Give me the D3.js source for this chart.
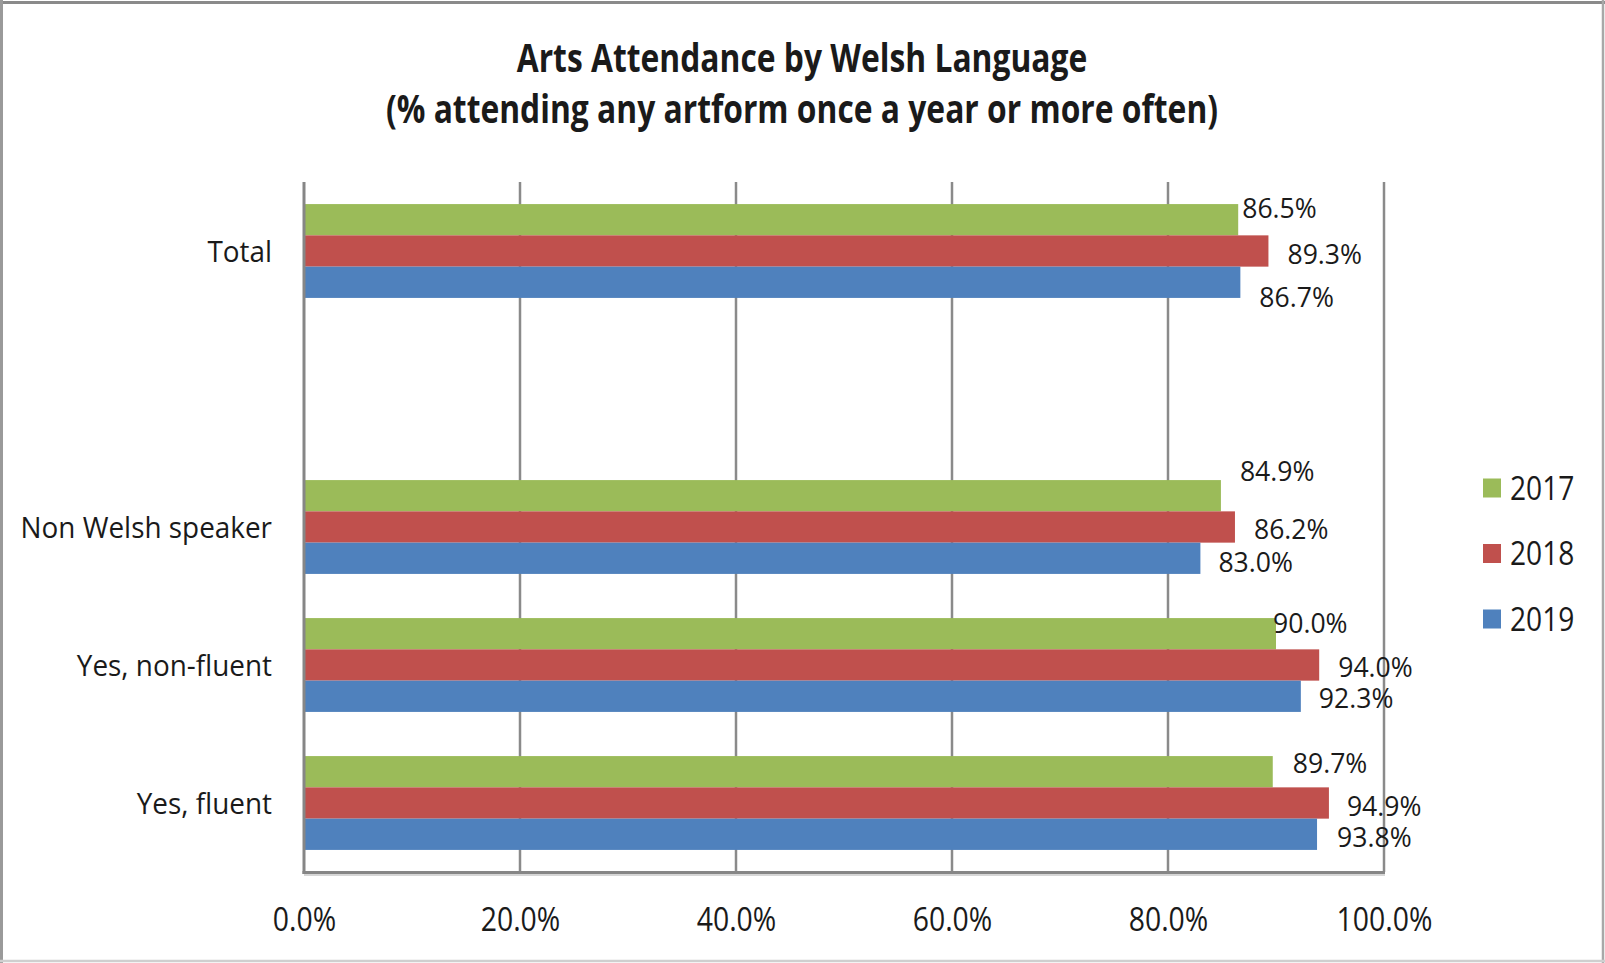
<!DOCTYPE html>
<html>
<head>
<meta charset="utf-8">
<script src="https://cdn.jsdelivr.net/npm/d3@7/dist/d3.min.js"></script>
<style>
  html, body { margin: 0; padding: 0; background: #fff; }
  svg { display: block; }
  text { font-family: "Open Sans", "Noto Sans", sans-serif; fill: #1a1a1a; }
</style>
</head>
<body>
<svg id="chart" width="1605" height="963"></svg>
<script>
// Survey groups, top to bottom (the empty entry leaves a gap after "Total")
const categories = ["Total", "", "Non Welsh speaker", "Yes, non-fluent", "Yes, fluent"];
const years = ["2017", "2018", "2019"];
// % attending any artform once a year or more often, per group
const values2017 = [86.5, null, 84.9, 90.0, 89.7];
const values2018 = [89.3, null, 86.2, 94.0, 94.9];
const values2019 = [86.7, null, 83.0, 92.3, 93.8];
const tickValues = [0, 20, 40, 60, 80, 100];
const titleLines = ["Arts Attendance by Welsh Language", "(% attending any artform once a year or more often)"];

// Hand-placed label nudges [dx from bar end, dy from bar middle]
const labelShift2017 = [[4, -12], null, [19, -25], [-3, -11], [20, -9]];
const labelShift2018 = [[19, 3], null, [19, 2], [19, 1.5], [18, 2.5]];
const labelShift2019 = [[19, 15], null, [18, 4], [18, 1.5], [20, 2.5]];

const seriesValues = [values2017, values2018, values2019];
const seriesShift = [labelShift2017, labelShift2018, labelShift2019];
const colors = ["#9BBB59", "#C0504D", "#4F81BD"];

const svg = d3.select("#chart");
const W = 1605, H = 963;
const plot = { left: 304, right: 1384, top: 182, bottom: 872 };

// Chart frame
svg.append("rect").attr("x", 0).attr("y", 0).attr("width", W).attr("height", H).attr("fill", "#fff");
svg.append("line").attr("x1", 0).attr("x2", W).attr("y1", 2.5).attr("y2", 2.5).attr("stroke", "#8a8a8a").attr("stroke-width", 3);
svg.append("line").attr("x1", 1.5).attr("x2", 1.5).attr("y1", 0).attr("y2", H).attr("stroke", "#9a9a9a").attr("stroke-width", 3);
svg.append("line").attr("x1", 1603).attr("x2", 1603).attr("y1", 0).attr("y2", H).attr("stroke", "#a8a8a8").attr("stroke-width", 2.5);
svg.append("line").attr("x1", 0).attr("x2", W).attr("y1", 961).attr("y2", 961).attr("stroke", "#cfcfcf").attr("stroke-width", 2.5);

const x = d3.scaleLinear().domain([0, 100]).range([plot.left, plot.right]);
const y = d3.scaleBand().domain(categories).range([plot.top, plot.bottom])
  .paddingInner(0.32).paddingOuter(0.16);
const ySub = d3.scaleBand().domain(years).range([0, y.bandwidth()]);

// Vertical gridlines
svg.append("g").selectAll("line").data(tickValues.slice(1)).join("line")
  .attr("x1", d => x(d)).attr("x2", d => x(d))
  .attr("y1", plot.top).attr("y2", plot.bottom)
  .attr("stroke", "#8a8a8a").attr("stroke-width", 2.5);

// Bars and their value labels
const groups = svg.append("g").selectAll("g").data(years).join("g")
  .attr("fill", (d, i) => colors[i]);
groups.each(function (yr, si) {
  const rows = categories.map((c, ci) => ({ c, v: seriesValues[si][ci], s: seriesShift[si][ci] }))
    .filter(r => r.v != null);
  const g = d3.select(this);
  g.selectAll("rect").data(rows).join("rect")
    .attr("x", x(0))
    .attr("y", r => y(r.c) + ySub(yr))
    .attr("width", r => x(r.v) - x(0))
    .attr("height", ySub.bandwidth());
  g.selectAll("text").data(rows).join("text")
    .attr("transform", r => `translate(${x(r.v) + r.s[0]},${y(r.c) + ySub(yr) + ySub.bandwidth() / 2 + r.s[1]}) scale(0.95,1)`)
    .attr("dy", "0.36em")
    .attr("font-size", 28)
    .style("fill", "#1a1a1a")
    .text(r => r.v.toFixed(1) + "%");
});

// Axis lines
svg.append("line").attr("x1", plot.left).attr("x2", plot.right + 1).attr("y1", plot.bottom + 3).attr("y2", plot.bottom + 3)
  .attr("stroke", "#d6d6d6").attr("stroke-width", 2);
svg.append("line").attr("x1", plot.left - 1.5).attr("x2", plot.right + 1).attr("y1", plot.bottom + 0.5).attr("y2", plot.bottom + 0.5)
  .attr("stroke", "#868686").attr("stroke-width", 3);
svg.append("line").attr("x1", plot.left).attr("x2", plot.left).attr("y1", plot.top).attr("y2", plot.bottom + 2)
  .attr("stroke", "#868686").attr("stroke-width", 3);

// Bottom tick labels
const xAxis = d3.axisBottom(x).tickValues(tickValues).tickSize(0).tickPadding(0)
  .tickFormat(d => d3.format(".1f")(d) + "%");
const gx = svg.append("g").attr("transform", `translate(0,${plot.bottom})`).call(xAxis);
gx.select(".domain").remove();
gx.selectAll("text")
  .attr("font-family", null).attr("font-size", null)
  .style("font-size", "33px")
  .attr("y", 47).attr("dy", "0.36em")
  .attr("transform", "scale(0.86,1)");

// Category labels
const yAxis = d3.axisLeft(y).tickSize(0).tickPadding(0);
const gy = svg.append("g").attr("transform", `translate(272,0)`).call(yAxis);
gy.select(".domain").remove();
gy.selectAll("text")
  .attr("font-family", null).attr("font-size", null)
  .style("font-size", "30px")
  .attr("x", 0).attr("dy", "0.36em")
  .attr("transform", "scale(0.93,1)");

// Title
svg.append("g").selectAll("text").data(titleLines).join("text")
  .attr("transform", (d, i) => `translate(802,${72 + i * 51}) scale(0.795,1)`)
  .attr("text-anchor", "middle")
  .style("font-size", "40px").style("font-weight", "bold")
  .text(d => d);

// Legend
const lg = svg.append("g").selectAll("g").data(years).join("g")
  .attr("transform", (d, i) => `translate(1483,${488 + i * 65.5})`);
lg.append("rect").attr("x", 0).attr("y", -9.5).attr("width", 18).attr("height", 19)
  .attr("fill", (d, i) => colors[i]);
lg.append("text").attr("transform", "translate(27,0) scale(0.88,1)")
  .attr("dy", "0.36em").style("font-size", "32px").text(d => d);
</script>
</body>
</html>
